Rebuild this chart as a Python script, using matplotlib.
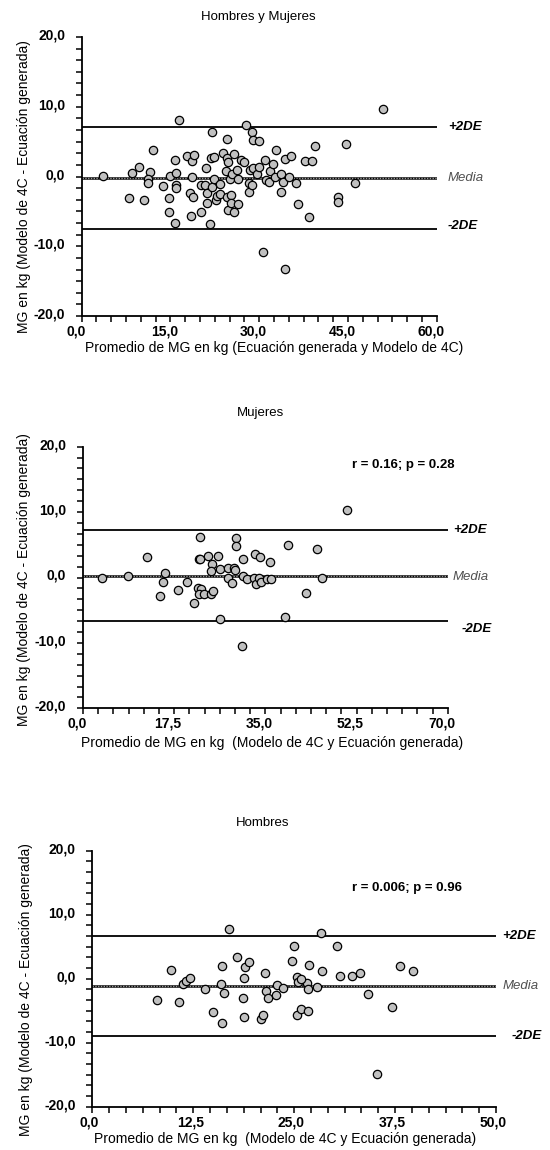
import matplotlib
matplotlib.use("Agg")
import matplotlib.pyplot as plt
from matplotlib.ticker import MultipleLocator, AutoMinorLocator, FuncFormatter
from matplotlib.transforms import ScaledTranslation

plt.rcParams['font.family'] = ['Liberation Sans', 'DejaVu Sans']

# ---------------- data ----------------
titles = ["Hombres y Mujeres", "Mujeres", "Hombres"]
xlabels = ["Promedio de MG en kg (Ecuación generada y Modelo de 4C)",
           "Promedio de MG en kg  (Modelo de 4C y Ecuación generada)",
           "Promedio de MG en kg  (Modelo de 4C y Ecuación generada)"]
ylabel = "MG en kg (Modelo de 4C - Ecuación generada)"
stats_text = [None, "r = 0.16; p = 0.28", "r = 0.006; p = 0.96"]

# Hombres y Mujeres
x_all = [3.65, 7.98, 8.55, 9.67, 10.5, 11.6, 11.2, 11.2, 12.0, 13.7, 14.8, 14.8, 15.0, 15.7, 15.9, 16.0,
         16.0, 15.7, 16.5, 17.8, 18.7, 19.06, 18.3, 18.8, 18.7, 18.5, 20.2, 20.2, 21.0, 20.9, 21.2, 21.2,
         21.6, 22.1, 21.9, 22.4, 22.0, 22.4, 22.7, 22.9, 23.3, 23.4, 23.9, 24.5, 24.6, 24.7, 24.4, 24.5,
         24.7, 25.1, 25.3, 25.2, 25.7, 25.4, 25.8, 26.3, 26.4, 26.4, 26.9, 27.5, 28.2, 28.2, 28.4, 27.8,
         28.8, 28.9, 30.0, 28.7, 29.0, 29.6, 30.0, 30.9, 30.7, 31.1, 31.7, 31.8, 32.4, 32.9, 32.7, 33.6,
         33.7, 34.1, 34.4, 34.3, 35.1, 35.4, 36.2, 36.6, 37.7, 38.5, 38.95, 50.9, 39.4, 44.7, 46.2, 43.3,
         43.3]
y_all = [0.05, -3.15, 0.48, 1.39, -3.35, 0.67, -0.3, -1.0, 3.73, -1.34, -3.15, -5.16, 0.05, 2.3, 0.53, -1.15,
         -1.72, -6.64, 8.08, 2.91, 2.2, 3.06, -2.39, -2.87, -0.05, -5.64, -5.16, -1.29, 1.24, -1.29, -2.34, -3.87,
         -6.79, 6.4, 2.63, 2.77, -1.53, -0.3, -3.3, -2.82, -1.05, -2.58, 3.4, 2.68, 5.4, 2.05, 0.86, -2.92,
         -4.87, -0.33, -2.68, -3.87, -5.11, 0.29, 3.2, 1.0, -0.43, -3.97, 2.39, 2.05, -1.0, -2.25, 0.9, 7.41,
         6.45, 5.3, 5.16, -1.24, 1.24, 0.43, 1.34, 2.34, -10.85, -0.57, -0.86, 0.81, 1.77, 3.77, -0.1, 0.29,
         -2.2, -0.76, -13.2, 2.44, 0.0, 3.01, -1.0, -4.01, 2.29, -5.83, 2.2, 9.7, 4.44, 4.73, -0.96, -3.0,
         -3.63]

# Mujeres
x_muj = [3.7, 8.7, 12.28, 15.8, 15.4, 14.7, 18.3, 19.9, 21.4, 22.5, 22.2, 22.5, 22.0, 22.7, 22.3, 23.2,
         23.9, 24.7, 24.5, 24.5, 25.0, 25.85, 26.2, 26.35, 27.8, 27.8, 28.6, 29.0, 29.1, 29.3, 29.3, 30.5,
         30.8, 30.7, 31.4, 32.8, 33.1, 33.2, 33.8, 34.0, 34.2, 35.3, 35.8, 36.1, 38.8, 39.3, 42.8, 50.7,
         44.9, 45.9]
y_muj = [0.0, 0.26, 3.21, 0.72, -0.7, -2.84, -1.93, -0.76, -3.87, 6.12, 2.81, 2.9, -1.53, -1.77, -2.45, -2.45,
         3.36, 2.14, 0.92, -2.45, -2.03, 3.36, 1.28, -6.36, 1.38, -0.05, -0.86, 1.44, 1.13, 6.02, 4.85, -10.44,
         2.81, 0.26, -0.24, -0.15, 3.58, -1.07, 0.0, 3.17, -0.66, -0.24, 2.4, -0.24, -6.01, 4.95, -2.34, 10.35,
         4.39, -0.05]

# Hombres
x_hom = [8.04, 9.74, 10.69, 11.19, 11.6, 12.09, 13.95, 14.94, 16.01, 16.01, 15.97, 16.34, 16.88, 17.95,
         18.74, 18.65, 18.74, 18.94, 19.39, 20.88, 21.09, 21.41, 21.46, 21.75, 22.7, 22.86, 23.64, 24.72,
         25.0, 25.37, 25.42, 25.37, 25.87, 26.53, 26.73, 26.86, 26.73, 28.27, 30.32, 28.43, 30.66, 32.18,
         33.13, 25.83, 27.85, 34.16, 37.18, 38.08, 39.73, 35.27]
y_hom = [-3.34, 1.36, -3.65, -0.83, -0.41, 0.16, -1.66, -5.27, -6.94, 2.04, -0.88, -2.19, 7.84, 3.35,
         0.16, -2.98, -5.96, 1.79, 2.62, -6.32, -5.69, 0.85, -1.97, -2.98, -2.6, -0.99, -1.41, 2.82,
         5.08, 0.22, -0.56, -5.74, -4.8, -0.72, -1.57, 2.15, -5.02, 7.21, 5.08, 1.16, 0.38, 0.38,
         0.89, -0.09, -1.25, -2.4, -4.39, 1.94, 1.16, -14.83]

# Bland-Altman limits (mean, +2DE, -2DE)
media = [-0.25, 0.3, -1.16]
sup = [7.05, 7.25, 6.68]
inf = [-7.55, -6.65, -9.0]

x_max = [60, 70, 50]
x_step = [15, 17.5, 12.5]
y_range = (-20, 20)
y_step = 10

# ---------------- layout ----------------
W, H = 550, 1150
fig = plt.figure(figsize=(W / 100, H / 100), dpi=100)

def rect(l, r, t, b):
    return [l / W, 1 - b / H, (r - l) / W, (b - t) / H]

axes_px = [(81.7, 436.7, 37, 316), (83, 447.7, 446.7, 708.3), (92.3, 496, 850.7, 1106.7)]
title_pos = [(258, 17), (260, 413), (263, 823)]
ylab_pos = [(24, 187), (24, 580), (26, 990)]
xlab_pos = [(274, 348), (272, 743), (285, 1139)]
stat_pos = [None, (403, 465), (407, 888)]
lab_x = [(448, 448, 448), (453, 453, 462), (502, 503, 512)]
lab_dy = [(0, 0, -3), (0, 1, 8), (0, 0, 0)]
xtick_shift = [-6, -6, -3]

datasets = [(x_all, y_all), (x_muj, y_muj), (x_hom, y_hom)]

def fmt(v, pos):
    return f"{v:.1f}".replace('.', ',')

def fpx(x, y):
    return x / W, 1 - y / H

for i in range(3):
    l, r, t, b = axes_px[i]
    ax = fig.add_axes(rect(l, r, t, b))
    xs, ys = datasets[i]
    ax.set_xlim(0, x_max[i])
    ax.set_ylim(*y_range)

    for sp in ['top', 'right']:
        ax.spines[sp].set_visible(False)
    for sp in ['left', 'bottom']:
        ax.spines[sp].set_linewidth(1.3)

    ax.xaxis.set_major_locator(MultipleLocator(x_step[i]))
    ax.yaxis.set_major_locator(MultipleLocator(y_step))
    ax.xaxis.set_minor_locator(AutoMinorLocator(6))
    ax.yaxis.set_minor_locator(AutoMinorLocator(6))
    ax.xaxis.set_major_formatter(FuncFormatter(fmt))
    ax.yaxis.set_major_formatter(FuncFormatter(fmt))
    ax.tick_params(which='both', direction='out', length=4, width=1.1, color='black')
    ax.tick_params(axis='y', which='major', pad=8)
    ax.tick_params(axis='x', which='major', pad=2)
    for lab in ax.get_xticklabels():
        lab.set_fontweight('bold')
        lab.set_fontsize(10)
        lab.set_transform(lab.get_transform() + ScaledTranslation(xtick_shift[i] / 100, 0, fig.dpi_scale_trans))
    for lab in ax.get_yticklabels():
        lab.set_fontweight('bold')
        lab.set_fontsize(10)
        lab.set_transform(lab.get_transform() + ScaledTranslation(0, 3 / 100, fig.dpi_scale_trans))

    ax.axhline(sup[i], color='black', lw=1.3, zorder=1)
    ax.axhline(inf[i], color='black', lw=1.3, zorder=1)
    ax.axhline(media[i], color='black', lw=1.8, zorder=1)
    ax.axhline(media[i], color='#9a9a9a', lw=1.0, ls=(0, (1, 1)), zorder=1.1)

    ax.scatter(xs, ys, s=36, facecolor='#c0c0c0', edgecolor='black', linewidth=0.9, zorder=3,
               clip_on=False)

    # labels for lines
    for k, (val, txt) in enumerate([(sup[i], '+2DE'), (media[i], 'Media'), (inf[i], '-2DE')]):
        _, ypx = ax.transData.transform((0, val))
        ypix = H - ypx + lab_dy[i][k]
        if txt == 'Media':
            fig.text(*fpx(lab_x[i][k], ypix), txt, fontsize=9.5, style='italic', color='#505050',
                     ha='left', va='center')
        else:
            fig.text(*fpx(lab_x[i][k], ypix), txt, fontsize=9.5, style='italic', fontweight='bold',
                     color='black', ha='left', va='center')

    fig.text(*fpx(*title_pos[i]), titles[i], fontsize=9.5, ha='center', va='center')
    fig.text(*fpx(*ylab_pos[i]), ylabel, fontsize=10, rotation=90, ha='center', va='center')
    fig.text(*fpx(*xlab_pos[i]), xlabels[i], fontsize=10, ha='center', va='center')
    if stats_text[i]:
        fig.text(*fpx(*stat_pos[i]), stats_text[i], fontsize=9.5, fontweight='bold', ha='center', va='center')

fig.savefig("out.png", dpi=100)
